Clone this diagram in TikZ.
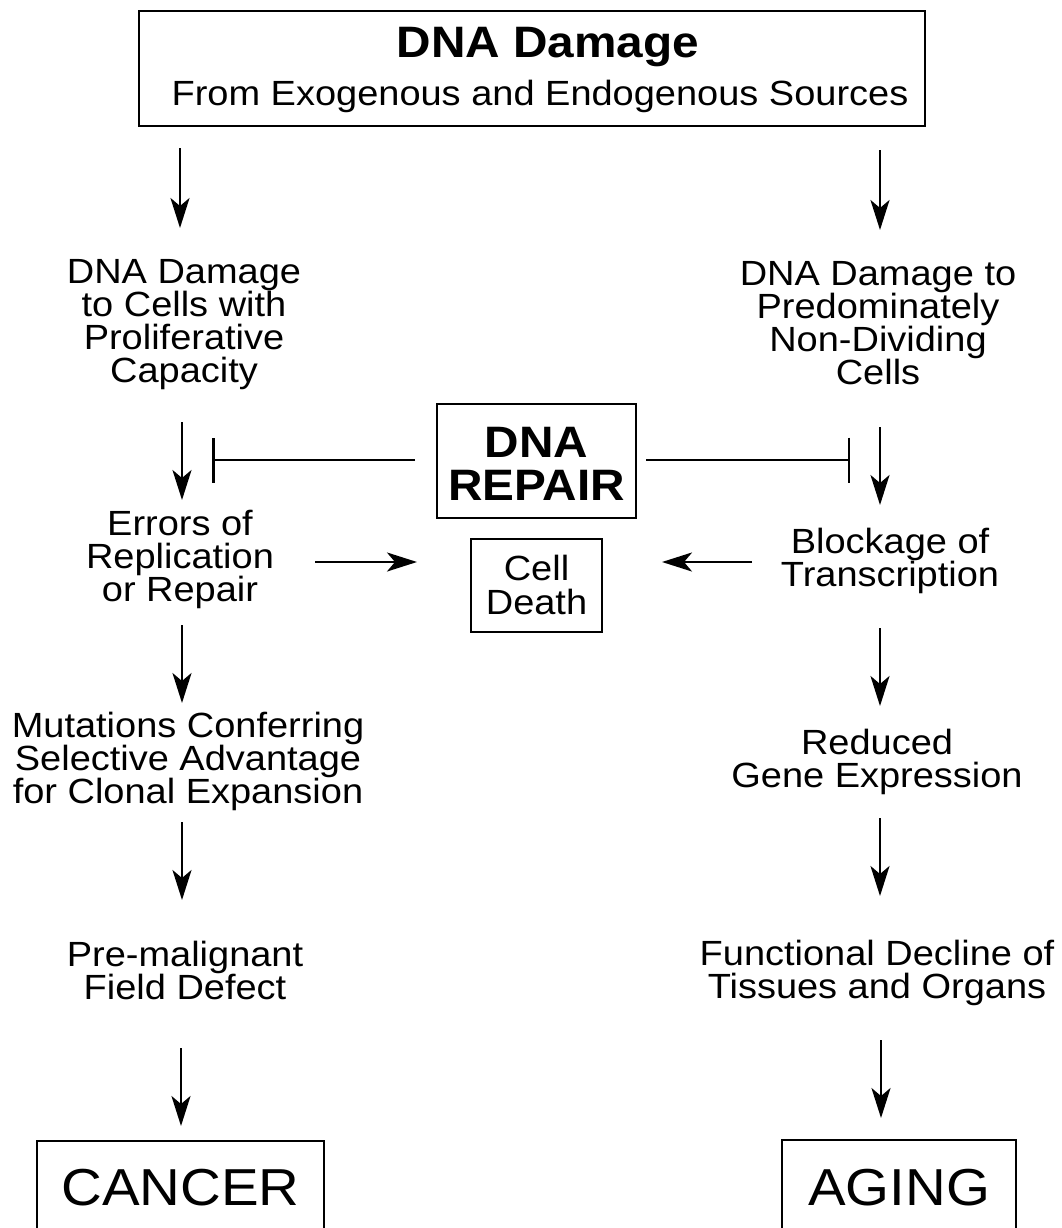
\documentclass[tikz,border=0pt]{standalone}
\usepackage{fontspec}
\setmainfont{Liberation Sans}[FakeStretch=1.085]
\usetikzlibrary{arrows.meta}
\lineskiplimit=-100pt
\newcommand{\vs}[2]{\rule[-#2pt]{0pt}{\dimexpr #1pt+#2pt\relax}}
\newcommand{\ts}{\vs{26}{7}}
\begin{document}
\begin{tikzpicture}[x=1pt,y=-1pt,
  box/.style={draw, line width=2pt, inner sep=0pt, align=center},
  txt/.style={inner sep=0pt, align=center, font=\fontsize{35}{33}\selectfont, anchor=north},
  arr/.style={line width=2.5pt, -{Stealth[length=30pt,width=19pt,inset=8pt]}},
  inhib/.style={line width=2.5pt, -{Bar[width=45pt]}}]
\useasboundingbox (0,0) rectangle (1062,1228);

% boxes
\node[box, minimum width=786pt, minimum height=115pt, font=\fontsize{35}{48}\selectfont] (top) at (532,68.5)
  {\vs{37.5}{10.5}\hspace*{32pt}{\bfseries\fontsize{44}{48}\selectfont DNA Damage}\\\vs{37.5}{10.5}\hspace*{16pt}From Exogenous and Endogenous Sources};
\node[box, minimum width=199pt, minimum height=114pt, font=\bfseries\fontsize{44}{43}\selectfont] (repair) at (536.5,461)
  {\vs{39}{4}DNA\\\vs{39}{4}REPAIR};
\node[box, minimum width=131pt, minimum height=93pt, font=\fontsize{35}{34}\selectfont] (death) at (536.5,585.5)
  {\vs{28.5}{5.5}Cell\\\vs{28.5}{5.5}Death};
\node[box, minimum width=287pt, text height=64pt, text depth=60pt, font=\fontsize{52}{52}\selectfont, anchor=base] (cancer) at (180.5,1205) {CANCER};
\node[box, minimum width=234pt, text height=65pt, text depth=60pt, font=\fontsize{52}{52}\selectfont, anchor=base] (aging) at (899,1205) {AGING};

% column texts
\node[txt] (l1) at (184,257) {\ts DNA Damage\\\ts to Cells with\\\ts Proliferative\\\ts Capacity};
\node[txt] (r1) at (878,259) {\ts DNA Damage to\\\ts Predominately\\\ts Non-Dividing\\\ts Cells};
\node[txt] (l2) at (180,509) {\ts Errors of\\\ts Replication\\\ts or Repair};
\node[txt] (r2) at (890,527) {\ts Blockage of\\\ts Transcription};
\node[txt] (l3) at (188,711) {\ts Mutations Conferring\\\ts Selective Advantage\\\ts for Clonal Expansion};
\node[txt] (r3) at (877,728) {\ts Reduced\\\ts Gene Expression};
\node[txt] (l4) at (185,940) {\ts Pre-malignant\\\ts Field Defect};
\node[txt] (r4) at (877,939) {\ts Functional Decline of\\\ts Tissues and Organs};

% arrow end points
\coordinate (a1ls) at (180,148);  \coordinate (a1le) at (180,228);
\coordinate (a1rs) at (880,150);  \coordinate (a1re) at (880,230);
\coordinate (a2ls) at (182,422);  \coordinate (a2le) at (182,500);
\coordinate (a2rs) at (880,427);  \coordinate (a2re) at (880,505);
\coordinate (a3ls) at (182,625);  \coordinate (a3le) at (182,703);
\coordinate (a3rs) at (880,628);  \coordinate (a3re) at (880,706);
\coordinate (a4ls) at (182,822);  \coordinate (a4le) at (182,900);
\coordinate (a4rs) at (880,818);  \coordinate (a4re) at (880,896);
\coordinate (a5ls) at (181,1048); \coordinate (a5le) at (181,1126);
\coordinate (a5rs) at (881,1040); \coordinate (a5re) at (881,1118);
\coordinate (cdl) at (315,562);
\coordinate (cdr) at (752,562);
\coordinate (barl) at (212,460);
\coordinate (barr) at (850,460);

\draw[arr] (a1ls) -- (a1le);
\draw[arr] (a1rs) -- (a1re);
\draw[arr] (a2ls) -- (a2le);
\draw[arr] (a2rs) -- (a2re);
\draw[arr] (a3ls) -- (a3le);
\draw[arr] (a3rs) -- (a3re);
\draw[arr] (a4ls) -- (a4le);
\draw[arr] (a4rs) -- (a4re);
\draw[arr] (a5ls) -- (a5le);
\draw[arr] (a5rs) -- (a5re);

\draw[arr, shorten >=53pt] (cdl) -- (cdl -| death.west);
\draw[arr, shorten >=59pt] (cdr) -- (cdr -| death.east);

\draw[inhib, shorten <=21pt] (barl -| repair.west) -- (barl);
\draw[inhib, shorten <=9pt] (barr -| repair.east) -- (barr);
\end{tikzpicture}
\end{document}
